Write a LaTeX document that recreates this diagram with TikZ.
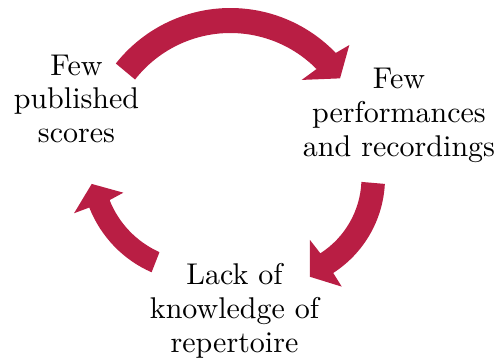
\documentclass[tikz,border=0pt]{standalone}
\usepackage{fontspec}
\newfontfamily\labelfont{lmroman10-regular.otf}
\definecolor{cyclered}{RGB}{185,30,68}
\begin{document}
\begin{tikzpicture}[x=1pt,y=1pt,
  cyclearrow/.style={fill=cyclered,draw=none},
  label/.style={align=center,inner sep=0pt,font={\labelfont\fontsize{30}{33.8}\selectfont}}]
\useasboundingbox (0,0) rectangle (499,362);
% labels
\node[label] (scores) at (76.5,263.1) {Few\\published\\scores};
\node[label] (perf) at (399,246.35) {Few\\performances\\and recordings};
\node[label] (lack) at (234.5,51.35) {Lack of\\knowledge of\\repertoire};
% top arrow
\begin{scope}[shift={(230.4,208)}]
\fill[cyclearrow] (141.7:146) arc[start angle=141.7, end angle=43.8, radius=146]
  -- (42.5:161.3) -- (34.6:133.2) -- (46.1:102.8) -- (44.6:121)
  arc[start angle=44.6, end angle=142, radius=121] -- cycle;
\end{scope}
% right arrow
\begin{scope}[shift={(272,184)}]
\fill[cyclearrow] (-3:113) arc[start angle=-3, end angle=-57.2, radius=113]
  -- (-57.3:129.1) -- (-69:105.8) -- (-58.5:72.7) -- (-57.3:89.5)
  arc[start angle=-57.3, end angle=-2.5, radius=89.5] -- cycle;
\end{scope}
% left arrow
\begin{scope}[shift={(198.6,197.3)}]
\fill[cyclearrow] (246.4:117.4) arc[start angle=246.4, end angle=201.4, radius=117.4]
  -- (201.3:133.7) -- (190.2:108.6) -- (200.4:80.3) -- (201.7:95.8)
  arc[start angle=201.7, end angle=245.9, radius=95.8] -- cycle;
\end{scope}
\end{tikzpicture}
\end{document}
